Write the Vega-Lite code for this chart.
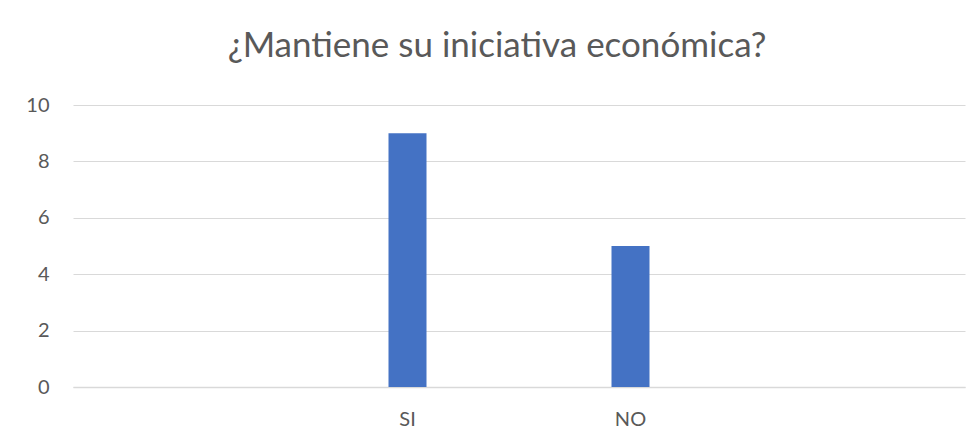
{
  "$schema": "https://vega.github.io/schema/vega-lite/v6.json",
  "width": 892,
  "height": 282,
  "autosize": {"type": "none"},
  "padding": {"left": 73, "top": 105, "right": 12, "bottom": 60},
  "background": "white",
  "title": {
    "text": "¿Mantiene su iniciativa económica?",
    "anchor": "middle",
    "frame": "group",
    "dx": -22,
    "offset": 31,
    "fontSize": 35,
    "font": "Lato",
    "fontWeight": "normal",
    "color": "#595959"
  },
  "data": {
    "values": [
      {"respuesta": "SI", "cantidad": 9},
      {"respuesta": "NO", "cantidad": 5}
    ]
  },
  "mark": {"type": "bar", "size": 38, "color": "#4472C4"},
  "encoding": {
    "x": {
      "field": "respuesta",
      "type": "nominal",
      "sort": null,
      "scale": {"domain": ["_a", "SI", "NO", "_b"], "paddingInner": 0, "paddingOuter": 0},
      "axis": {
        "title": null,
        "labelAngle": 0,
        "labelExpr": "indexof(datum.value, '_') == 0 ? '' : datum.value",
        "ticks": false,
        "domainColor": "#d9d9d9",
        "domainWidth": 1.5,
        "labelPadding": 22,
        "labelFontSize": 20,
        "labelFont": "Lato",
        "labelColor": "#595959"
      }
    },
    "y": {
      "field": "cantidad",
      "type": "quantitative",
      "scale": {"domain": [0, 10]},
      "axis": {
        "title": null,
        "values": [0, 2, 4, 6, 8, 10],
        "ticks": false,
        "domain": false,
        "gridColor": "#d9d9d9",
        "gridWidth": 1,
        "labelPadding": 24,
        "labelFontSize": 20,
        "labelFont": "Lato",
        "labelColor": "#595959"
      }
    }
  },
  "config": {"view": {"stroke": null}}
}
